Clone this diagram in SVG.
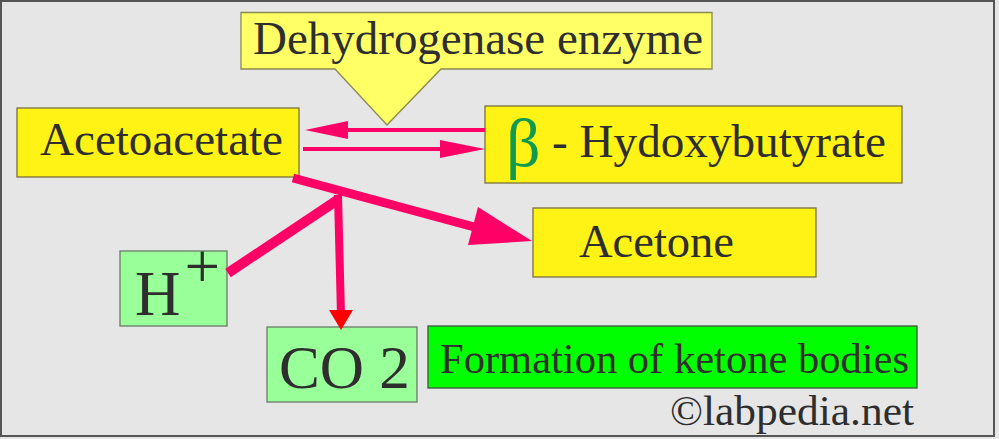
<svg xmlns="http://www.w3.org/2000/svg" width="999" height="439" viewBox="0 0 999 439">
<style>
text{fill:#2e2e2e}
.y{fill:#fff215;stroke:#7a7040;stroke-width:1.3}
.g{fill:#99ff99;stroke:#6a7a6a;stroke-width:1.3}
.pk{stroke:#ff0066;fill:none}
.ah{fill:#ff0066}
</style>
<rect x="0" y="0" width="999" height="439" fill="#e6e6e6"/>
<rect x="1" y="1" width="993" height="435" fill="#e6e6e6" stroke="#555555" stroke-width="2"/>
<g font-family="Liberation Serif, DejaVu Serif, serif">
<g id="dehydrogenase">
<path d="M241,12.5 H712 V69 H441 L387,125 L335,69 H241 Z" fill="#ffff66" stroke="#8a8a50" stroke-width="1.3"/>
<text x="253" y="54" font-size="46" textLength="450" lengthAdjust="spacingAndGlyphs">Dehydrogenase enzyme</text>
</g>
<g id="acetoacetate">
<rect class="y" x="17" y="108" width="282" height="69"/>
<text x="40" y="155" font-size="47" textLength="243" lengthAdjust="spacingAndGlyphs">Acetoacetate</text>
</g>
<g id="hydroxybutyrate">
<rect class="y" x="485" y="106" width="417" height="77"/>
<text x="506" y="166" font-size="68" style="fill:#109a50">β</text>
<text x="552" y="157" font-size="47" textLength="334" lengthAdjust="spacingAndGlyphs">- Hydoxybutyrate</text>
</g>
<g id="acetone">
<rect class="y" x="533" y="208" width="283" height="69"/>
<text x="579" y="257" font-size="47" textLength="155" lengthAdjust="spacingAndGlyphs">Acetone</text>
</g>
<g id="hplus">
<rect class="g" x="120" y="251" width="107" height="75"/>
<text x="135" y="315" font-size="63">H<tspan dx="4" dy="-27">+</tspan></text>
</g>
<g id="co2">
<rect class="g" x="267" y="327" width="150" height="75"/>
<text x="279" y="388" font-size="62" textLength="131" lengthAdjust="spacingAndGlyphs">CO 2</text>
</g>
<g id="title">
<rect x="428" y="326" width="489" height="62" fill="#00ff00" stroke="#3a5a3a" stroke-width="1.3"/>
<text x="440" y="373" font-size="43" textLength="469" lengthAdjust="spacingAndGlyphs">Formation of ketone bodies</text>
</g>
<g id="copyright">
<text x="670" y="425" font-size="43" textLength="244" lengthAdjust="spacingAndGlyphs">©labpedia.net</text>
</g>
</g>
<g id="connectors">
<line class="pk" x1="485" y1="130" x2="345" y2="130" stroke-width="4"/>
<polygon class="ah" points="305,130 348,121 348,139"/>
<line class="pk" x1="303" y1="149" x2="445" y2="149" stroke-width="4"/>
<polygon class="ah" points="485,149 440,140 440,158"/>
<line class="pk" x1="293" y1="178" x2="478" y2="228" stroke-width="9"/>
<polygon class="ah" points="532,241 478,207 468,245"/>
<line class="pk" x1="228" y1="273" x2="339" y2="199" stroke-width="10"/>
<line class="pk" x1="338" y1="195" x2="341" y2="315" stroke-width="8"/>
<polygon points="341,330 329,310 353,310" fill="#ff0000"/>
</g>
</svg>
